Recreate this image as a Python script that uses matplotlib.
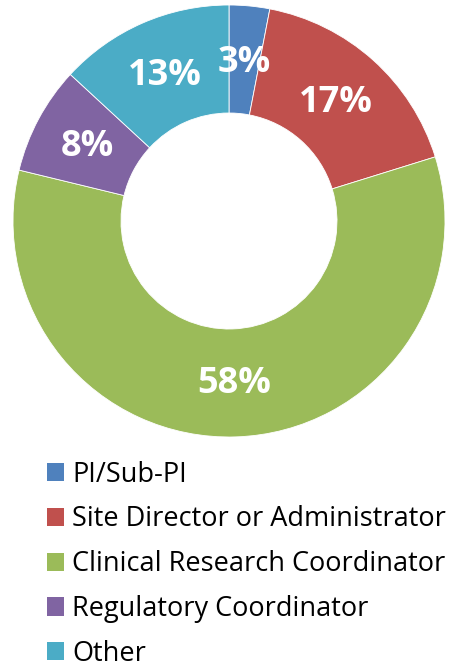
import matplotlib
matplotlib.use("Agg")
import numpy as np
import matplotlib.pyplot as plt
from matplotlib.patches import Patch

categories = ["PI/Sub-PI", "Site Director or Administrator", "Clinical Research Coordinator",
              "Regulatory Coordinator", "Other"]
values = [3, 17, 58, 8, 13]
colors = ["#4F81BD", "#C0504D", "#9BBB59", "#8064A2", "#4BACC6"]

W, H = 456, 669
fig = plt.figure(figsize=(W / 100, H / 100), dpi=100)
cx, cy, R = 229, 221, 216
ax = fig.add_axes([(cx - R) / W, (H - cy - R) / H, 2 * R / W, 2 * R / H])
wedges, _ = ax.pie(
    values, colors=colors, startangle=90, counterclock=False, radius=1.0,
    wedgeprops=dict(width=0.5, edgecolor="white", linewidth=0.6))
for w, v in zip(wedges, values):
    a = np.deg2rad((w.theta1 + w.theta2) / 2)
    ax.text(0.745 * np.cos(a), 0.745 * np.sin(a) - 0.01, f"{v}%", ha="center", va="center",
            color="white", fontsize=26, fontweight="bold", family=["Open Sans", "DejaVu Sans"])
ax.set_xlim(-1, 1)
ax.set_ylim(-1, 1)
ax.set_aspect("equal")
ax.axis("off")

handles = [Patch(facecolor=c, edgecolor="none") for c in colors]
fig.legend(handles, categories, loc="upper left", bbox_to_anchor=(25 / W, 1 - 439 / H),
           frameon=False, prop=dict(family=["Open Sans", "DejaVu Sans"], size=19.5),
           handlelength=0.65, handleheight=0.65, handletextpad=0.3, labelspacing=0.62,
           borderpad=0.3)
fig.savefig("out.png", dpi=100)
